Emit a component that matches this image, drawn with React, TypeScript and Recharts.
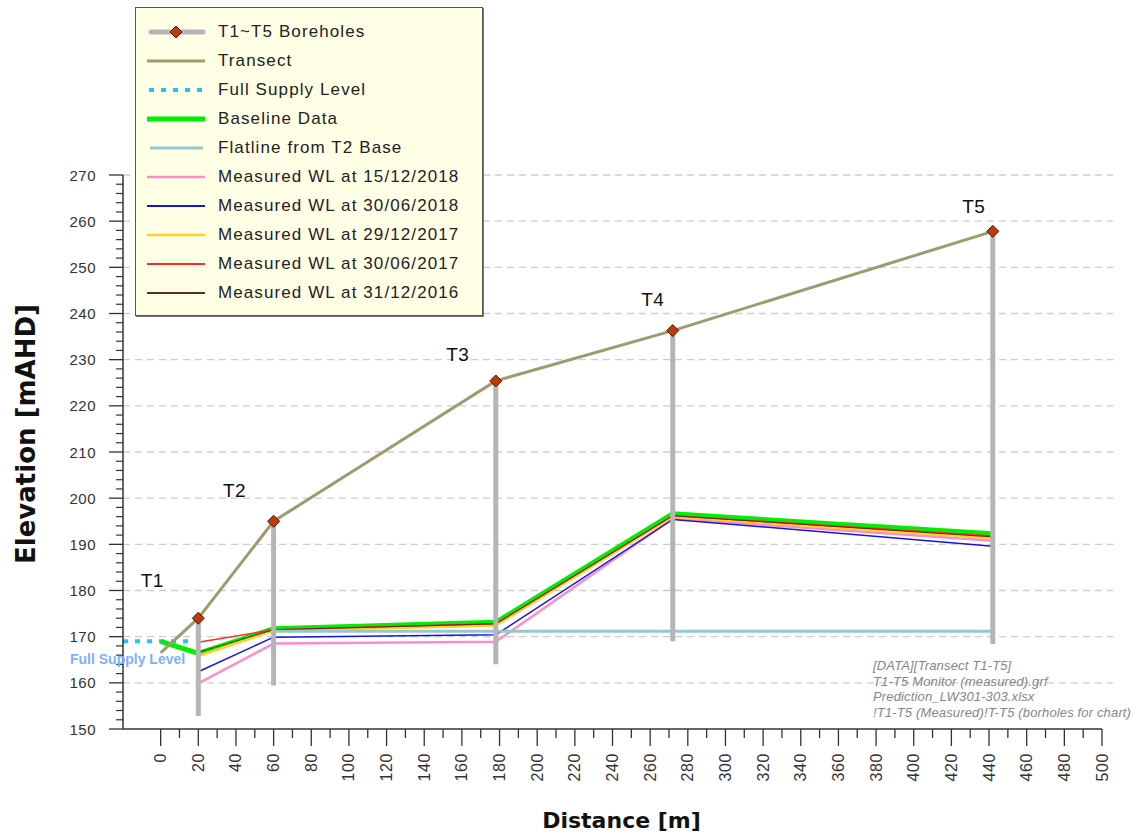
import { LineChart, Line, XAxis, YAxis, ReferenceLine, Label, LabelList } from "recharts";

const FONT = '"Liberation Sans", Arial, sans-serif';
const WIDE = '"DejaVu Sans", Verdana, sans-serif';

// boreholes along the transect: chainage [m] and elevations [mAHD]
const BOREHOLES = ["T1", "T2", "T3", "T4", "T5"];
const BORE_X = [20, 60, 178, 272, 442];
const BORE_TOP = [174, 195, 225.4, 236.3, 257.8];
const BORE_BASE = [152.8, 159.4, 164, 169, 168.4];

// ground surface
const TRANSECT_X = [0, 20, 60, 178, 272, 442];
const TRANSECT_Y = [166.5, 174, 195, 225.4, 236.3, 257.8];

const FSL_X = [-20, 17];
const FSL_Y = [169, 169];

const BASELINE_X = [0, 20, 60, 178, 272, 442];
const BASELINE_Y = [169, 166.4, 171.7, 173.1, 196.6, 192.3];

const FLAT_X = [60, 442];
const FLAT_Y = [171.2, 171.2];

// measured water levels at T1..T5
const WL_X = [20, 60, 178, 272, 442];
const WL_20181215 = [159.9, 168.5, 168.9, 195.6, 190.8];
const WL_20180630 = [162.4, 169.9, 170.4, 195.4, 189.6];
const WL_20171229 = [165.8, 171.3, 172.4, 196.0, 191.3];
const WL_20170630 = [168.8, 171.5, 172.8, 196.2, 191.8];
const WL_20161231 = [166.6, 171.5, 172.8, 196.2, 191.6];

const Y_TICKS = [150, 160, 170, 180, 190, 200, 210, 220, 230, 240, 250, 260, 270];

const NOTES = [
  "[DATA][Transect T1-T5]",
  "T1-T5 Monitor (measured).grf",
  "Prediction_LW301-303.xlsx",
  "!T1-T5 (Measured)!T-T5 (borholes for chart)",
];

const pts = (xs: number[], ys: number[]) => xs.map((x, i) => ({ x, y: ys[i] }));

// x ticks every 10 m, labelled every 20 m
const xTicks: number[] = [];
for (let v = 0; v <= 500; v += 10) xTicks.push(v);

// layout
const W = 1142;
const H = 836;
const MARGIN = { top: 175, right: 40, bottom: 7, left: 43 };
const Y_AXIS_W = 80;
const X_AXIS_H = 100;
const PLOT_LEFT = MARGIN.left + Y_AXIS_W;
const PLOT_H = H - MARGIN.top - MARGIN.bottom - X_AXIS_H;
const Y_MINOR_PX = (PLOT_H / (270 - 150)) * 2;

// drawn bottom to top
const WL_SERIES = [
  { name: "Measured WL at 15/12/2018", values: WL_20181215, color: "#ff8cc8", width: 2.5 },
  { name: "Measured WL at 30/06/2018", values: WL_20180630, color: "#1414e6", width: 1.5 },
  { name: "Measured WL at 29/12/2017", values: WL_20171229, color: "#ffd02a", width: 2.5 },
  { name: "Measured WL at 30/06/2017", values: WL_20170630, color: "#ff2a2a", width: 1.5 },
  { name: "Measured WL at 31/12/2016", values: WL_20161231, color: "#5a2e22", width: 1 },
];

const GREY = "#b5b5b5";
const OLIVE = "#9e9b72";
const CYAN = "#16c8ff";
const GREEN = "#00ee00";
const TEAL = "#93c9cc";
const DIAMOND = "#bf3a0c";

const XTick = (props: any) => {
  const { x, y, payload } = props;
  const v = payload.value;
  const major = v % 20 === 0;
  return (
    <g>
      <line x1={x} x2={x} y1={y} y2={y + (major ? 17 : 9)} stroke="#333" strokeWidth={1.3} />
      {major && (
        <text
          transform={`translate(${x},${y + 24}) rotate(-90)`}
          textAnchor="end"
          dominantBaseline="central"
          fontFamily={FONT}
          fontSize={16}
          letterSpacing={0.6}
          fill="#333"
        >
          {v}
        </text>
      )}
    </g>
  );
};

const YTick = (props: any) => {
  const { y, payload } = props;
  const v = payload.value;
  const ax = PLOT_LEFT;
  const minors = v > 150 ? [1, 2, 3, 4] : [];
  return (
    <g>
      <line x1={ax - 14} x2={ax} y1={y} y2={y} stroke="#333" strokeWidth={1.3} />
      {minors.map((k) => (
        <line key={k} x1={ax - 7} x2={ax} y1={y + k * Y_MINOR_PX} y2={y + k * Y_MINOR_PX} stroke="#333" strokeWidth={1.2} />
      ))}
      <text x={ax - 27} y={y} textAnchor="end" dominantBaseline="central" fontFamily={FONT} fontSize={15} letterSpacing={0.5} fill="#333">
        {v}
      </text>
    </g>
  );
};

const Diamond = (props: any) => {
  const { cx, cy } = props;
  if (cx == null || cy == null) return <g />;
  const r = 6;
  return (
    <path
      d={`M${cx},${cy - r} L${cx + r},${cy} L${cx},${cy + r} L${cx - r},${cy} Z`}
      fill={DIAMOND}
      stroke="#4a1500"
      strokeWidth={1}
    />
  );
};

// where the T-labels sit relative to each borehole top (px)
const TAG_OFFSET = [
  [-46, -38],
  [-39, -31],
  [-38, -26],
  [-20, -31],
  [-19, -25],
];

const TagLabel = (props: any) => {
  const { x, y, index } = props;
  const [dx, dy] = TAG_OFFSET[index];
  return (
    <text x={x + dx} y={y + dy} textAnchor="middle" dominantBaseline="central" fontFamily={FONT} fontSize={19} letterSpacing={0.5} fill="#111">
      {BOREHOLES[index]}
    </text>
  );
};

const FslLabel = (props: any) => {
  const { x, y, index } = props;
  if (index !== 0) return null;
  return (
    <text x={x - 53} y={y + 18} dominantBaseline="central" fontFamily={FONT} fontSize={14} fontWeight="bold" fill="#7fb0ff">
      Full Supply Level
    </text>
  );
};

const LegendBox = () => {
  const rows: { label: string; sample: any }[] = [
    {
      label: "T1~T5 Boreholes",
      sample: (
        <>
          <line x1={4} x2={56} y1={8} y2={8} stroke={GREY} strokeWidth={5} strokeLinecap="round" />
          <path d="M29,2 L35,8 L29,14 L23,8 Z" fill={DIAMOND} stroke="#4a1500" strokeWidth={1} />
        </>
      ),
    },
    { label: "Transect", sample: <line x1={0} x2={58} y1={8} y2={8} stroke={OLIVE} strokeWidth={3} /> },
    {
      label: "Full Supply Level",
      sample: <line x1={2} x2={58} y1={8} y2={8} stroke={CYAN} strokeWidth={4} strokeDasharray="5 7" />,
    },
    { label: "Baseline Data", sample: <line x1={0} x2={58} y1={8} y2={8} stroke={GREEN} strokeWidth={5} /> },
    { label: "Flatline from T2 Base", sample: <line x1={3} x2={56} y1={8} y2={8} stroke={TEAL} strokeWidth={3} /> },
    ...WL_SERIES.map((s) => ({
      label: s.name,
      sample: <line x1={0} x2={58} y1={8} y2={8} stroke={s.color} strokeWidth={Math.max(s.width, 2)} />,
    })),
  ];
  return (
    <div
      style={{
        position: "absolute",
        left: 135,
        top: 7,
        width: 346,
        height: 307,
        background: "#ffffe6",
        border: "1px solid #555",
        boxShadow: "1px 1px 0 #777",
      }}
    >
      {rows.map((r, i) => (
        <div key={r.label} style={{ position: "absolute", left: 11, top: 16 + i * 29, height: 16, display: "flex", alignItems: "center" }}>
          <svg width={60} height={16} style={{ display: "block" }}>
            {r.sample}
          </svg>
          <span
            style={{
              marginLeft: 11,
              fontFamily: FONT,
              fontSize: 17,
              letterSpacing: 1.1,
              color: "#222",
              whiteSpace: "nowrap",
              lineHeight: "16px",
            }}
          >
            {r.label}
          </span>
        </div>
      ))}
    </div>
  );
};

export default function App() {
  return (
    <div style={{ position: "absolute", left: 0, top: 0, width: W, height: H, background: "#fff" }}>
      <LineChart width={W} height={H} margin={MARGIN}>
        <XAxis
          dataKey="x"
          type="number"
          domain={[-20, 500]}
          ticks={xTicks}
          interval={0}
          tick={<XTick />}
          tickLine={false}
          tickSize={0}
          tickMargin={0}
          height={X_AXIS_H}
          axisLine={{ stroke: "#333", strokeWidth: 1.5 }}
          allowDataOverflow
        >
          <Label
            content={(p: any) => {
              const vb = p.viewBox;
              return (
                <text x={vb.x + vb.width / 2 + 9} y={vb.y + 99} textAnchor="middle" fontFamily={WIDE} fontSize={22} fontWeight="bold" fill="#111">
                  Distance [m]
                </text>
              );
            }}
          />
        </XAxis>
        <YAxis
          dataKey="y"
          type="number"
          domain={[150, 270]}
          ticks={Y_TICKS}
          interval={0}
          tick={<YTick />}
          tickLine={false}
          tickSize={0}
          tickMargin={0}
          width={Y_AXIS_W}
          axisLine={{ stroke: "#333", strokeWidth: 1.5 }}
          allowDataOverflow
        >
          <Label
            content={() => (
              <text transform="translate(26,434) rotate(-90)" textAnchor="middle" dominantBaseline="central" fontFamily={WIDE} fontSize={26} fontWeight="bold" fill="#111">
                Elevation [mAHD]
              </text>
            )}
          />
        </YAxis>

        {Y_TICKS.slice(1).map((v) => (
          <ReferenceLine
            key={v}
            segment={[
              { x: -20, y: v },
              { x: 506, y: v },
            ]}
            ifOverflow="visible"
            stroke="#cdcdcd"
            strokeDasharray="7 5"
            strokeWidth={1.3}
          />
        ))}

        <Line data={pts(FSL_X, FSL_Y)} dataKey="y" stroke={CYAN} strokeWidth={4} strokeDasharray="5 7" dot={false} isAnimationActive={false}>
          <LabelList content={<FslLabel />} />
        </Line>
        <Line data={pts(BASELINE_X, BASELINE_Y)} dataKey="y" stroke={GREEN} strokeWidth={5} dot={false} isAnimationActive={false} />
        {WL_SERIES.map((s) => (
          <Line key={s.name} data={pts(WL_X, s.values)} dataKey="y" stroke={s.color} strokeWidth={s.width} dot={false} isAnimationActive={false} />
        ))}
        <Line data={pts(FLAT_X, FLAT_Y)} dataKey="y" stroke={TEAL} strokeWidth={3} dot={false} isAnimationActive={false} />
        <Line data={pts(TRANSECT_X, TRANSECT_Y)} dataKey="y" stroke={OLIVE} strokeWidth={3} dot={false} isAnimationActive={false} />
        {BORE_X.map((x, i) => (
          <Line
            key={BOREHOLES[i]}
            data={[
              { x, y: BORE_TOP[i] },
              { x, y: BORE_BASE[i] },
            ]}
            dataKey="y"
            stroke={GREY}
            strokeWidth={5}
            dot={false}
            isAnimationActive={false}
          />
        ))}
        <Line data={pts(BORE_X, BORE_TOP)} dataKey="y" stroke="none" dot={<Diamond />} isAnimationActive={false}>
          <LabelList content={<TagLabel />} />
        </Line>
      </LineChart>

      <LegendBox />

      <div
        style={{
          position: "absolute",
          left: 873,
          top: 658,
          fontFamily: FONT,
          fontSize: 13,
          fontStyle: "italic",
          letterSpacing: 0.15,
          color: "#858585",
          lineHeight: "15.5px",
        }}
      >
        {NOTES.map((n) => (
          <div key={n} style={{ whiteSpace: "nowrap" }}>
            {n}
          </div>
        ))}
      </div>
    </div>
  );
}
